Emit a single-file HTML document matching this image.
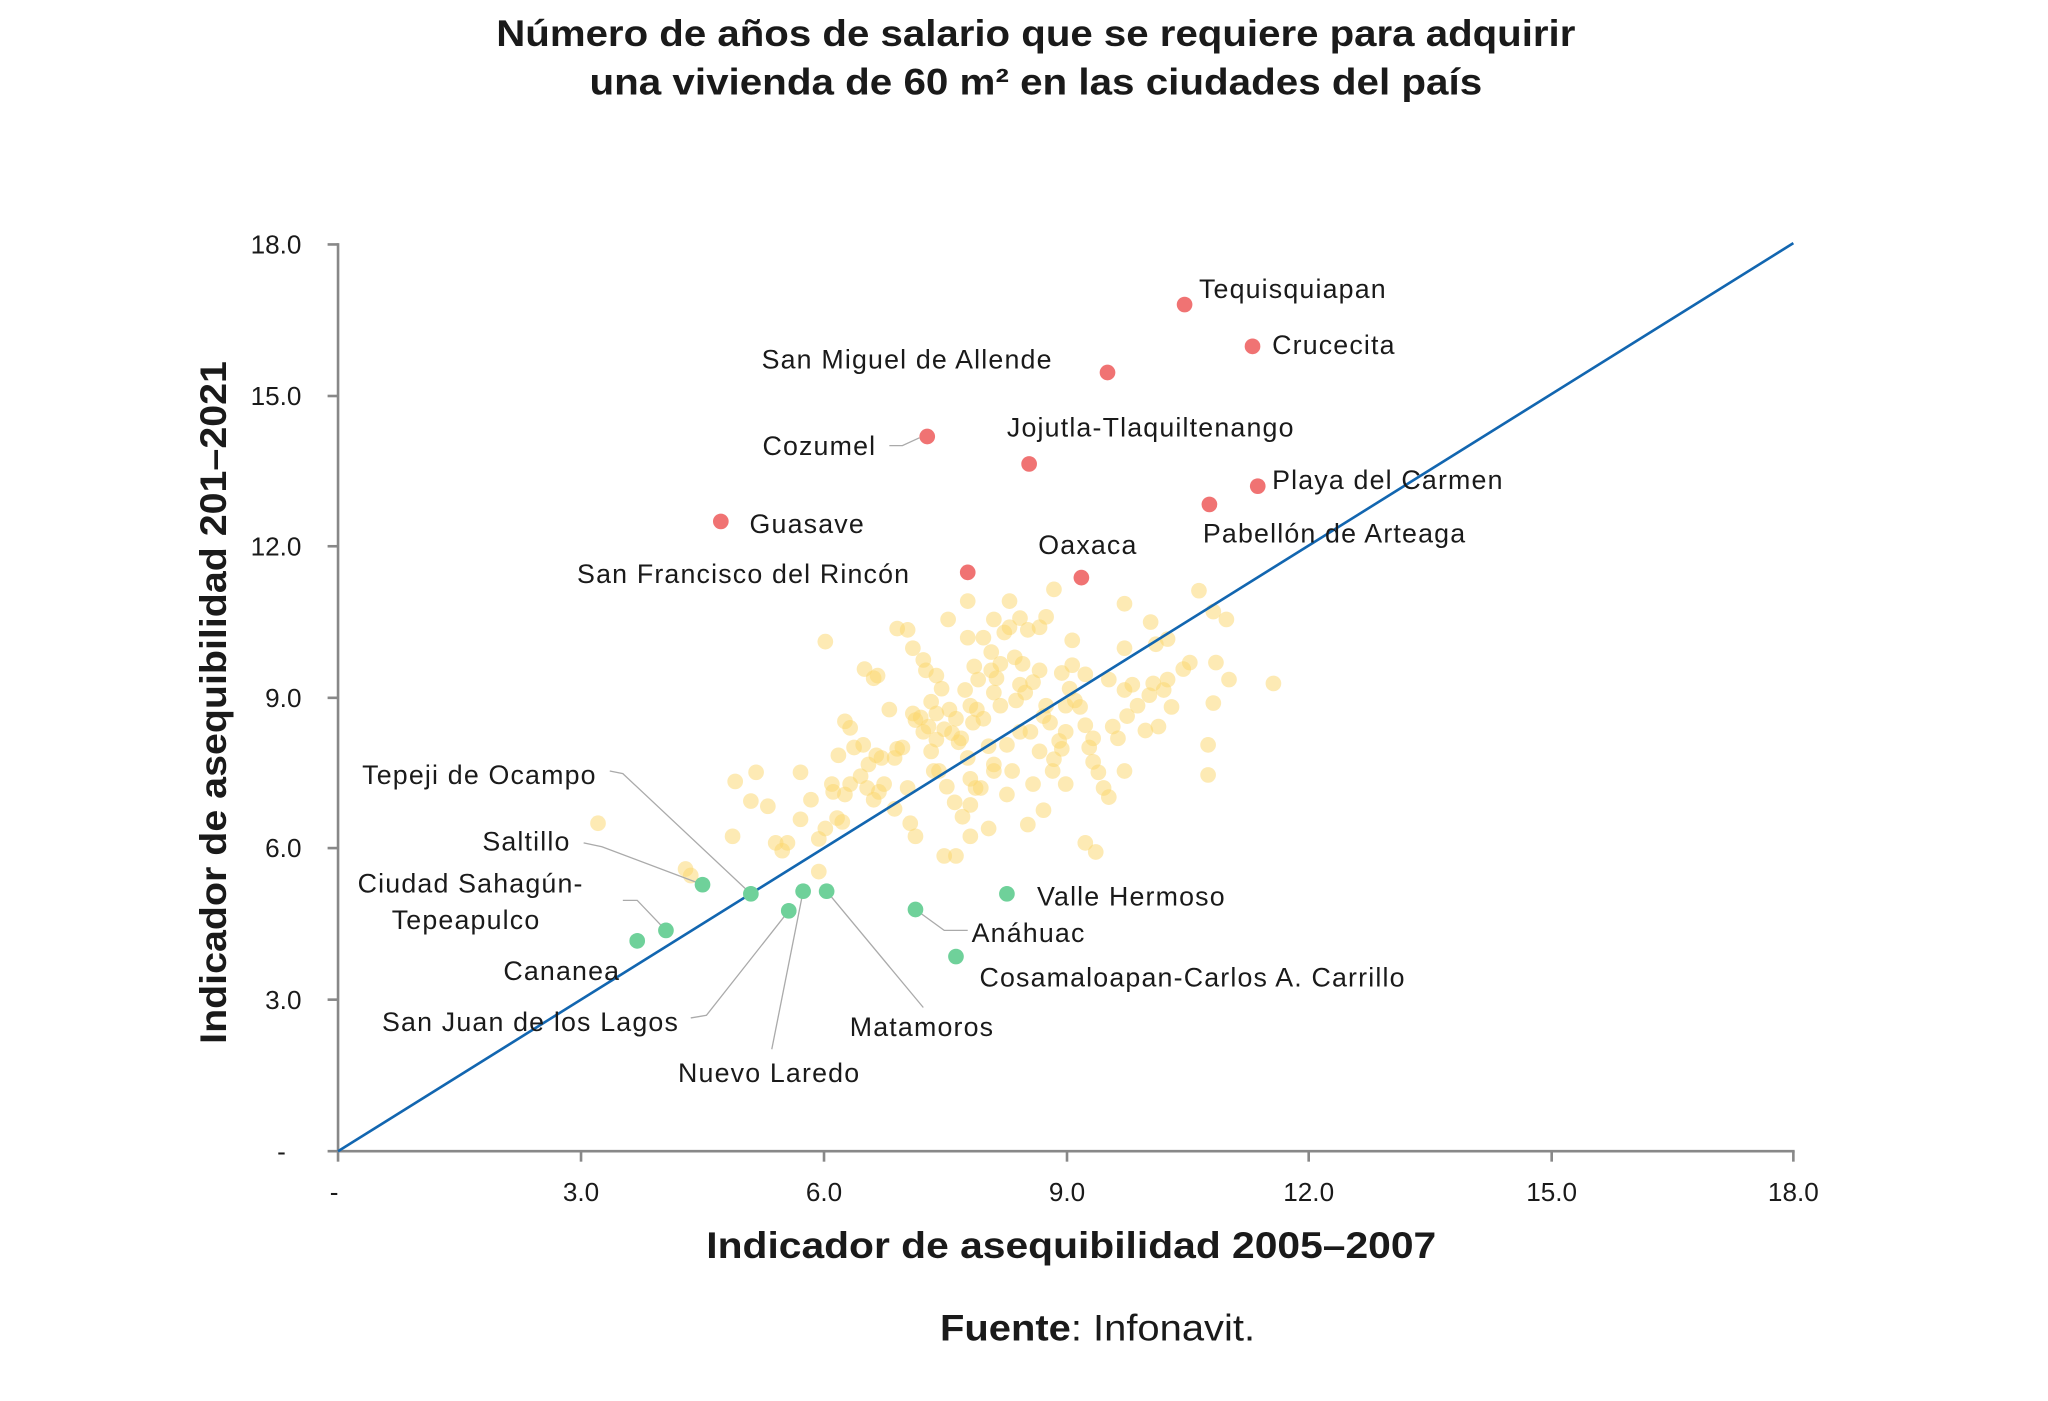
<!DOCTYPE html>
<html><head><meta charset="utf-8"><style>
html,body{margin:0;padding:0;background:#fff;}
svg{display:block;}
text{font-family:"Liberation Sans",sans-serif;fill:#1a1a1a;}
.lb{font-size:20.5px;letter-spacing:0.9px;}
.tk{font-size:20px;fill:#222;}
</style></head><body>
<svg width="2048" height="1401" viewBox="0 0 1560 1067" preserveAspectRatio="none">
<text x="378" y="35" textLength="822" lengthAdjust="spacingAndGlyphs" font-size="28" font-weight="bold">Número de años de salario que se requiere para adquirir</text>
<text x="449" y="72" textLength="680" lengthAdjust="spacingAndGlyphs" font-size="28" font-weight="bold">una vivienda de 60 m² en las ciudades del país</text>

<text x="538" y="958" textLength="556" lengthAdjust="spacingAndGlyphs" font-size="28" font-weight="bold">Indicador de asequibilidad 2005–2007</text>
<text transform="translate(172,795) rotate(-90)" textLength="520" lengthAdjust="spacingAndGlyphs" font-size="28" font-weight="bold">Indicador de asequibilidad 201–2021</text>
<text x="716" y="1021" textLength="240" lengthAdjust="spacingAndGlyphs" font-size="28"><tspan font-weight="bold">Fuente</tspan>: Infonavit.</text>

<g transform="matrix(0.9951,0,0,0.9951,0.76,0.08)">
<g stroke="#888" stroke-width="2" fill="none">
<line x1="258" y1="186" x2="258" y2="882"/>
<line x1="250" y1="881" x2="1373" y2="881"/>
<line x1="250" y1="187" x2="258" y2="187"/><line x1="250" y1="303" x2="258" y2="303"/>
<line x1="250" y1="418" x2="258" y2="418"/><line x1="250" y1="534" x2="258" y2="534"/>
<line x1="250" y1="649" x2="258" y2="649"/><line x1="250" y1="765" x2="258" y2="765"/>
<line x1="258" y1="881" x2="258" y2="889"/><line x1="444" y1="881" x2="444" y2="889"/>
<line x1="630" y1="881" x2="630" y2="889"/><line x1="816" y1="881" x2="816" y2="889"/>
<line x1="1001" y1="881" x2="1001" y2="889"/><line x1="1187" y1="881" x2="1187" y2="889"/>
<line x1="1372" y1="881" x2="1372" y2="889"/>
</g>
<g class="tk" text-anchor="end">
<text x="230" y="194">18.0</text><text x="230" y="310">15.0</text><text x="230" y="425">12.0</text>
<text x="230" y="541">9.0</text><text x="230" y="656">6.0</text><text x="230" y="772">3.0</text><text x="218" y="888">-</text>
</g>
<g class="tk" text-anchor="middle">
<text x="255" y="919">-</text><text x="444" y="919">3.0</text><text x="630" y="919">6.0</text><text x="816" y="919">9.0</text>
<text x="1001" y="919">12.0</text><text x="1187" y="919">15.0</text><text x="1372" y="919">18.0</text>
</g>

<g fill="#fbd66a" fill-opacity="0.5">
<circle cx="457" cy="630" r="6"/><circle cx="524" cy="665" r="6"/><circle cx="528" cy="670" r="6"/><circle cx="560" cy="640" r="6"/><circle cx="562" cy="598" r="6"/><circle cx="574" cy="613" r="6"/><circle cx="578" cy="591" r="6"/><circle cx="587" cy="617" r="6"/><circle cx="593" cy="645" r="6"/><circle cx="598" cy="651" r="6"/><circle cx="602" cy="645" r="6"/><circle cx="612" cy="591" r="6"/><circle cx="612" cy="627" r="6"/><circle cx="620" cy="612" r="6"/><circle cx="626" cy="642" r="6"/><circle cx="626" cy="667" r="6"/><circle cx="631" cy="491" r="6"/><circle cx="631" cy="634" r="6"/><circle cx="636" cy="600" r="6"/><circle cx="637" cy="606" r="6"/><circle cx="640" cy="626" r="6"/><circle cx="644" cy="629" r="6"/><circle cx="646" cy="608" r="6"/><circle cx="650" cy="600" r="6"/><circle cx="641" cy="578" r="6"/><circle cx="646" cy="552" r="6"/><circle cx="650" cy="557" r="6"/><circle cx="653" cy="572" r="6"/><circle cx="658" cy="594" r="6"/><circle cx="663" cy="603" r="6"/><circle cx="664" cy="585" r="6"/><circle cx="668" cy="612" r="6"/><circle cx="670" cy="578" r="6"/><circle cx="672" cy="606" r="6"/><circle cx="676" cy="600" r="6"/><circle cx="661" cy="512" r="6"/><circle cx="668" cy="519" r="6"/><circle cx="671" cy="517" r="6"/><circle cx="680" cy="543" r="6"/><circle cx="684" cy="580" r="6"/><circle cx="686" cy="573" r="6"/><circle cx="690" cy="572" r="6"/><circle cx="694" cy="603" r="6"/><circle cx="698" cy="546" r="6"/><circle cx="700" cy="551" r="6"/><circle cx="704" cy="549" r="6"/><circle cx="706" cy="560" r="6"/><circle cx="710" cy="556" r="6"/><circle cx="712" cy="575" r="6"/><circle cx="716" cy="546" r="6"/><circle cx="716" cy="566" r="6"/><circle cx="720" cy="527" r="6"/><circle cx="722" cy="558" r="6"/><circle cx="724" cy="602" r="6"/><circle cx="730" cy="614" r="6"/><circle cx="694" cy="482" r="6"/><circle cx="686" cy="481" r="6"/><circle cx="698" cy="496" r="6"/><circle cx="708" cy="513" r="6"/><circle cx="712" cy="537" r="6"/><circle cx="714" cy="590" r="6"/><circle cx="718" cy="590" r="6"/><circle cx="726" cy="543" r="6"/><circle cx="728" cy="561" r="6"/><circle cx="731" cy="550" r="6"/><circle cx="733" cy="568" r="6"/><circle cx="736" cy="625" r="6"/><circle cx="742" cy="616" r="6"/><circle cx="740" cy="580" r="6"/><circle cx="742" cy="596" r="6"/><circle cx="746" cy="603" r="6"/><circle cx="750" cy="603" r="6"/><circle cx="752" cy="550" r="6"/><circle cx="756" cy="571" r="6"/><circle cx="760" cy="585" r="6"/><circle cx="748" cy="520" r="6"/><circle cx="735" cy="565" r="6"/><circle cx="738" cy="528" r="6"/><circle cx="744" cy="553" r="6"/><circle cx="747" cy="543" r="6"/><circle cx="752" cy="488" r="6"/><circle cx="758" cy="499" r="6"/><circle cx="762" cy="519" r="6"/><circle cx="765" cy="508" r="6"/><circle cx="768" cy="484" r="6"/><circle cx="772" cy="480" r="6"/><circle cx="776" cy="503" r="6"/><circle cx="780" cy="524" r="6"/><circle cx="782" cy="508" r="6"/><circle cx="784" cy="530" r="6"/><circle cx="786" cy="482" r="6"/><circle cx="790" cy="522" r="6"/><circle cx="795" cy="513" r="6"/><circle cx="795" cy="480" r="6"/><circle cx="798" cy="548" r="6"/><circle cx="800" cy="540" r="6"/><circle cx="803" cy="553" r="6"/><circle cx="806" cy="581" r="6"/><circle cx="810" cy="567" r="6"/><circle cx="812" cy="573" r="6"/><circle cx="815" cy="560" r="6"/><circle cx="818" cy="527" r="6"/><circle cx="820" cy="509" r="6"/><circle cx="822" cy="536" r="6"/><circle cx="826" cy="541" r="6"/><circle cx="830" cy="555" r="6"/><circle cx="833" cy="572" r="6"/><circle cx="836" cy="583" r="6"/><circle cx="840" cy="591" r="6"/><circle cx="844" cy="603" r="6"/><circle cx="848" cy="610" r="6"/><circle cx="851" cy="556" r="6"/><circle cx="855" cy="565" r="6"/><circle cx="860" cy="528" r="6"/><circle cx="862" cy="548" r="6"/><circle cx="866" cy="524" r="6"/><circle cx="870" cy="540" r="6"/><circle cx="876" cy="559" r="6"/><circle cx="879" cy="532" r="6"/><circle cx="882" cy="523" r="6"/><circle cx="886" cy="556" r="6"/><circle cx="890" cy="528" r="6"/><circle cx="893" cy="520" r="6"/><circle cx="896" cy="541" r="6"/><circle cx="905" cy="512" r="6"/><circle cx="910" cy="507" r="6"/><circle cx="917" cy="452" r="6"/><circle cx="924" cy="570" r="6"/><circle cx="928" cy="538" r="6"/><circle cx="930" cy="507" r="6"/><circle cx="928" cy="468" r="6"/><circle cx="938" cy="474" r="6"/><circle cx="940" cy="520" r="6"/><circle cx="924" cy="593" r="6"/><circle cx="974" cy="523" r="6"/><circle cx="806" cy="451" r="6"/><circle cx="740" cy="460" r="6"/><circle cx="725" cy="474" r="6"/><circle cx="860" cy="462" r="6"/><circle cx="880" cy="476" r="6"/><circle cx="893" cy="489" r="6"/><circle cx="777" cy="536" r="6"/><circle cx="790" cy="600" r="6"/><circle cx="798" cy="620" r="6"/><circle cx="830" cy="645" r="6"/><circle cx="838" cy="652" r="6"/><circle cx="722" cy="655" r="6"/><circle cx="731" cy="655" r="6"/><circle cx="786" cy="631" r="6"/><circle cx="770" cy="608" r="6"/><circle cx="760" cy="590" r="6"/><circle cx="742" cy="640" r="6"/><circle cx="756" cy="634" r="6"/><circle cx="684" cy="619" r="6"/><circle cx="696" cy="630" r="6"/><circle cx="700" cy="640" r="6"/><circle cx="660" cy="570" r="6"/><circle cx="674" cy="580" r="6"/><circle cx="706" cy="505" r="6"/><circle cx="820" cy="490" r="6"/><circle cx="848" cy="520" r="6"/><circle cx="860" cy="496" r="6"/><circle cx="884" cy="493" r="6"/><circle cx="860" cy="590" r="6"/><circle cx="836" cy="565" r="6"/><circle cx="815" cy="600" r="6"/><circle cx="805" cy="590" r="6"/><circle cx="780" cy="560" r="6"/><circle cx="770" cy="570" r="6"/><circle cx="765" cy="540" r="6"/><circle cx="760" cy="530" r="6"/><circle cx="740" cy="488" r="6"/><circle cx="745" cy="510" r="6"/><circle cx="772" cy="460" r="6"/><circle cx="760" cy="474" r="6"/><circle cx="780" cy="473" r="6"/><circle cx="800" cy="472" r="6"/><circle cx="815" cy="540" r="6"/><circle cx="795" cy="575" r="6"/><circle cx="774" cy="590" r="6"/><circle cx="788" cy="560" r="6"/><circle cx="742" cy="540" r="6"/><circle cx="716" cy="517" r="6"/><circle cx="758" cy="513" r="6"/><circle cx="812" cy="515" r="6"/><circle cx="830" cy="516" r="6"/>
</g>

<g stroke="#aaa" stroke-width="1" fill="none">
<polyline points="680,341 690,341 703,335"/>
<polyline points="466,590 476,592 574,684"/>
<polyline points="446,645 460,648 537,677"/>
<polyline points="476,689 487,689 509,712"/>
<polyline points="528,779 540,777 603,697"/>
<polyline points="590,803 614,682"/>
<polyline points="706,771 632,682"/>
<polyline points="740,712 722,712 700,696"/>
</g>

<line x1="258" y1="881" x2="1372" y2="186" stroke="#1266b0" stroke-width="2"/>

<g fill="#f07373">
<circle cx="906" cy="233" r="6"/><circle cx="958" cy="265" r="6"/><circle cx="847" cy="285" r="6"/><circle cx="709" cy="334" r="6"/><circle cx="787" cy="355" r="6"/><circle cx="962" cy="372" r="6"/><circle cx="925" cy="386" r="6"/><circle cx="551" cy="399" r="6"/><circle cx="740" cy="438" r="6"/><circle cx="827" cy="442" r="6"/>
</g>
<g fill="#6fd19a">
<circle cx="537" cy="677" r="6"/><circle cx="574" cy="684" r="6"/><circle cx="614" cy="682" r="6"/><circle cx="632" cy="682" r="6"/><circle cx="603" cy="697" r="6"/><circle cx="509" cy="712" r="6"/><circle cx="487" cy="720" r="6"/><circle cx="700" cy="696" r="6"/><circle cx="770" cy="684" r="6"/><circle cx="731" cy="732" r="6"/>
</g>

<g class="lb">
<text x="917" y="228">Tequisquiapan</text>
<text x="973" y="271">Crucecita</text>
<text x="805" y="282" text-anchor="end">San Miguel de Allende</text>
<text x="670" y="348" text-anchor="end">Cozumel</text>
<text x="770" y="334">Jojutla-Tlaquiltenango</text>
<text x="973" y="374">Playa del Carmen</text>
<text x="920" y="415">Pabellón de Arteaga</text>
<text x="573" y="408">Guasave</text>
<text x="794" y="424">Oaxaca</text>
<text x="696" y="446" text-anchor="end">San Francisco del Rincón</text>
<text x="456" y="600" text-anchor="end">Tepeji de Ocampo</text>
<text x="436" y="651" text-anchor="end">Saltillo</text>
<text x="446" y="683" text-anchor="end">Ciudad Sahagún-</text>
<text x="356" y="711" text-anchor="middle">Tepeapulco</text>
<text x="474" y="750" text-anchor="end">Cananea</text>
<text x="519" y="789" text-anchor="end">San Juan de los Lagos</text>
<text x="588" y="828" text-anchor="middle">Nuevo Laredo</text>
<text x="705" y="793" text-anchor="middle">Matamoros</text>
<text x="793" y="693">Valle Hermoso</text>
<text x="743" y="721">Anáhuac</text>
<text x="749" y="755">Cosamaloapan-Carlos A. Carrillo</text>
</g>
</g>
</svg>
</body></html>
